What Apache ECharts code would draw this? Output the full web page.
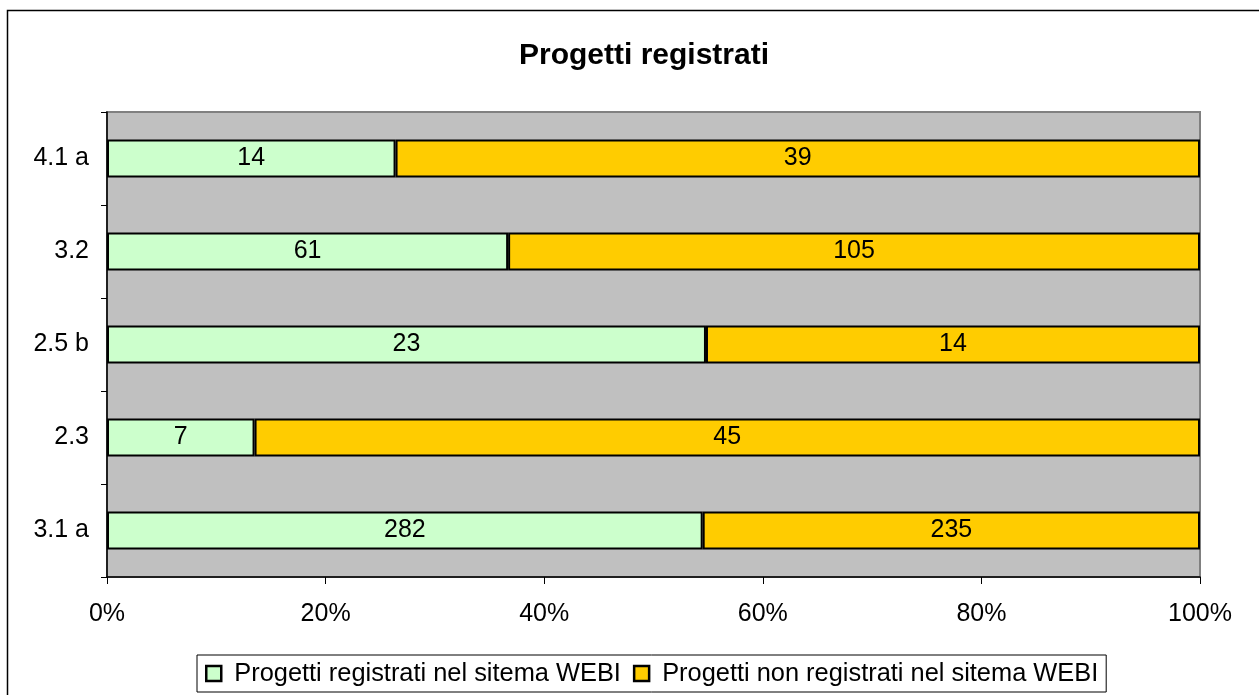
<!DOCTYPE html>
<html>
<head>
<meta charset="utf-8">
<script src="https://cdn.jsdelivr.net/npm/echarts@6/dist/echarts.min.js"></script>
<style>
  html, body { margin: 0; padding: 0; background: #fff; }
  #chart { width: 1259px; height: 695px; }
</style>
</head>
<body>
<div id="chart"></div>
<script>
const categories = ["3.1 a", "2.3", "2.5 b", "3.2", "4.1 a"];
// counts printed on the bars
const registrati = [282, 7, 23, 61, 14];
const nonRegistrati = [235, 45, 14, 105, 39];
// share (%) of the registered part
const registratiShare = [54.5, 13.5, 54.8, 36.7, 26.4];
const xTicks = ["0%", "20%", "40%", "60%", "80%", "100%"];

const font = "Liberation Sans, Arial, sans-serif";

const barStyle = color => ({
  color: color,
  borderColor: "#000",
  borderWidth: 2,
});

const label = {
  show: true,
  position: "inside",
  color: "#000",
  fontFamily: font,
  fontSize: 25,
  formatter: p => p.data.raw,
};

let chart = echarts.init(document.getElementById("chart"));
chart.setOption({
  animation: false,
  title: {
    text: "Progetti registrati",
    left: 639,
    top: 36,
    textAlign: "center",
    textStyle: { fontFamily: font, fontSize: 30, fontWeight: "bold", color: "#000" },
  },
  graphic: [{
    type: "rect",
    shape: { x: 7.5, y: 10.5, width: 1260, height: 700 },
    style: { fill: null, stroke: "#000", lineWidth: 1.5 },
    silent: true,
  }],
  legend: {
    left: 197,
    top: 655,
    icon: "rect",
    itemWidth: 15,
    itemHeight: 15,
    itemGap: 12,
    padding: [6, 8, 6, 8],
    borderColor: "#000",
    borderWidth: 1,
    backgroundColor: "#fff",
    textStyle: { fontFamily: font, fontSize: 25.4, color: "#000", padding: [0, 0, 0, 8] },
    data: [
      { name: "Progetti registrati nel sitema WEBI", itemStyle: { borderColor: "#000", borderWidth: 2.5 } },
      { name: "Progetti non registrati nel sitema WEBI", itemStyle: { borderColor: "#000", borderWidth: 2.5 } },
    ],
  },
  grid: {
    left: 107,
    right: 59,
    top: 112,
    bottom: 118,
    show: true,
    backgroundColor: "#c0c0c0",
    borderColor: "#808080",
    borderWidth: 2,
  },
  xAxis: {
    type: "value",
    min: 0,
    max: 100,
    interval: 20,
    axisLine: { show: true, lineStyle: { color: "#000", width: 1.5 } },
    axisTick: { show: true, length: 7, lineStyle: { color: "#000" } },
    splitLine: { show: false },
    axisLabel: {
      margin: 25,
      color: "#000",
      fontFamily: font,
      fontSize: 25,
      formatter: v => xTicks[v / 20],
    },
  },
  yAxis: {
    type: "category",
    data: categories,
    axisLine: { show: true, lineStyle: { color: "#000", width: 1.5 } },
    axisTick: { show: true, length: 6, inside: false, lineStyle: { color: "#000" } },
    axisLabel: { margin: 18, color: "#000", fontFamily: font, fontSize: 25 },
  },
  series: [{
    name: "Progetti registrati nel sitema WEBI",
    type: "bar",
    stack: "tot",
    barWidth: 38,
    itemStyle: barStyle("#ccffcc"),
    label: label,
    data: registratiShare.map((s, i) => ({ value: s, raw: registrati[i] })),
  }, {
    name: "Progetti non registrati nel sitema WEBI",
    type: "bar",
    stack: "tot",
    barWidth: 38,
    itemStyle: barStyle("#ffcc00"),
    label: label,
    data: registratiShare.map((s, i) => ({ value: 100 - s, raw: nonRegistrati[i] })),
  }],
});
</script>
</body>
</html>
